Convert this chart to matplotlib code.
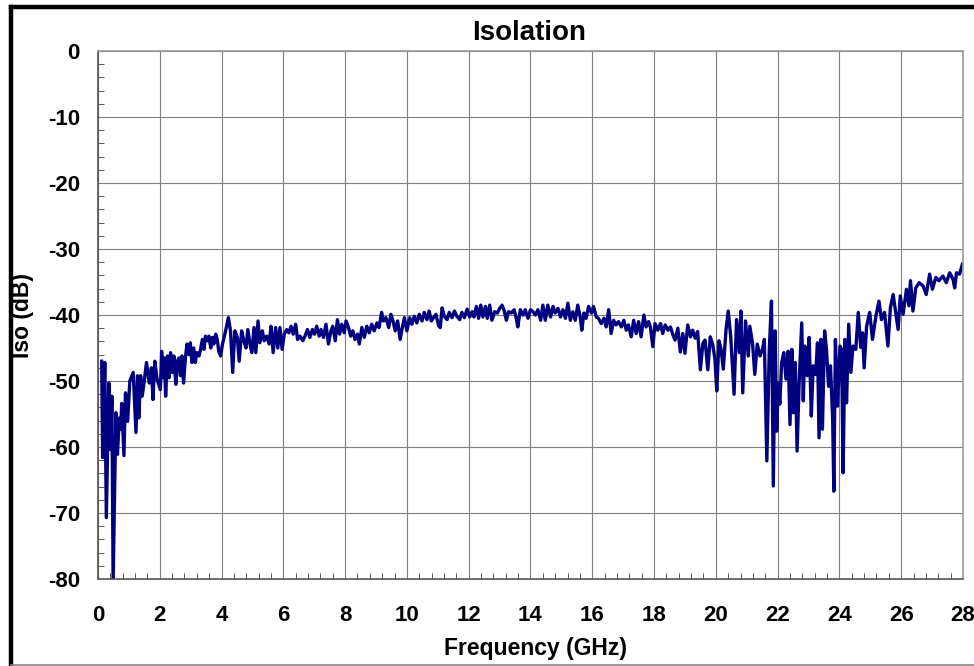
import matplotlib.pyplot as plt
from matplotlib.ticker import MultipleLocator
from matplotlib.lines import Line2D

plt.rcParams['font.family'] = ['Liberation Sans', 'DejaVu Sans']
plt.rcParams['axes.unicode_minus'] = False

# isolation trace, in three pieces (GHz, dB)
f_low = [0.12, 0.15, 0.22, 0.27, 0.35, 0.41, 0.45, 0.49, 0.58, 0.63, 0.69, 0.73, 0.77, 0.84, 0.89, 0.96,
         1.03, 1.14, 1.23, 1.28, 1.32, 1.38, 1.43, 1.49, 1.57, 1.66, 1.73, 1.78, 1.84, 1.91,
         2.02, 2.06, 2.11, 2.15, 2.19, 2.25, 2.30, 2.35, 2.41, 2.46, 2.52, 2.57, 2.62, 2.67, 2.72,
         2.77, 2.83, 2.88, 2.94, 2.99, 3.04, 3.10, 3.15, 3.20, 3.27, 3.32, 3.38, 3.43, 3.48, 3.54,
         3.59, 3.65, 3.70, 3.75, 3.81, 3.86, 3.91, 3.97, 4.03]
iso_low = [-47.0, -61.6, -47.2, -70.7, -50.3, -60.4, -52.3, -80.5, -54.8, -61.1, -55.6, -57.3, -53.4, -61.3, -51.8, -56.1,
           -50.0, -48.7, -57.8, -49.2, -55.6, -49.2, -52.3, -50.3, -47.2, -50.3, -48.0, -52.8, -47.0, -49.7,
           -51.3, -45.5, -49.5, -46.5, -52.3, -46.2, -49.5, -45.7, -48.7, -46.2, -50.5, -47.0, -46.5, -49.2, -46.2,
           -50.3, -46.5, -44.4, -46.0, -44.2, -47.2, -45.0, -47.2, -45.7, -46.2, -45.2, -43.7, -45.2, -43.2, -43.9,
           -43.2, -45.0, -43.4, -44.4, -42.9, -43.7, -45.5, -46.2, -44.4]

f_mid = [4.08, 4.14, 4.22, 4.29, 4.36, 4.43, 4.51, 4.57, 4.65, 4.72, 4.79, 4.85, 4.92, 4.98,
         5.05, 5.11, 5.18, 5.24, 5.32, 5.38, 5.46, 5.54, 5.60, 5.67, 5.75, 5.82, 5.89, 5.96,
         6.03, 6.11, 6.18, 6.25, 6.32, 6.40, 6.46, 6.54, 6.63, 6.70, 6.78, 6.86, 6.94,
         7.01, 7.08, 7.16, 7.22, 7.30, 7.38, 7.46, 7.54, 7.60, 7.68, 7.75, 7.82, 7.89, 7.97,
         8.03, 8.11, 8.18, 8.25, 8.32, 8.40, 8.46, 8.54, 8.62, 8.70, 8.78, 8.86, 8.94,
         9.03, 9.10, 9.18, 9.24, 9.32, 9.41, 9.48, 9.55, 9.62, 9.70, 9.78, 9.86, 9.92,
         10.00, 10.09, 10.16, 10.24, 10.32, 10.40, 10.49, 10.56, 10.65, 10.72, 10.79, 10.86, 10.94,
         11.03, 11.08, 11.14, 11.21, 11.30, 11.37, 11.46, 11.54, 11.62, 11.71, 11.78, 11.86, 11.95,
         12.03, 12.11, 12.17, 12.25, 12.32, 12.39, 12.46, 12.54, 12.60, 12.68, 12.75, 12.84, 12.93,
         13.00, 13.08, 13.14, 13.22, 13.29, 13.38, 13.47, 13.54, 13.59, 13.67, 13.76, 13.83, 13.92,
         14.00, 14.08, 14.16, 14.24, 14.33, 14.40, 14.48, 14.56, 14.65, 14.73, 14.80, 14.89, 14.97,
         15.05, 15.13, 15.21, 15.29, 15.37, 15.45, 15.53, 15.61, 15.66, 15.73, 15.80, 15.88, 15.97,
         16.04, 16.13, 16.20, 16.29, 16.38, 16.45, 16.53, 16.61, 16.69, 16.77, 16.85, 16.94,
         17.02, 17.10, 17.17, 17.26, 17.34, 17.42, 17.50, 17.58, 17.67, 17.74, 17.82, 17.88, 17.96,
         18.03, 18.12, 18.21, 18.28, 18.36, 18.45, 18.53, 18.61, 18.68, 18.77, 18.85, 18.93,
         19.00, 19.09, 19.18, 19.25, 19.33, 19.41, 19.50, 19.58, 19.65, 19.74, 19.82, 19.90]
iso_mid = [-43.4, -42.2, -40.4, -42.4, -48.7, -42.4, -43.4, -47.0, -42.4, -43.9, -45.0, -42.2, -44.4, -45.7,
           -41.9, -45.7, -40.9, -44.2, -42.4, -43.9, -43.2, -44.4, -41.7, -45.7, -41.9, -45.0, -41.9, -45.2,
           -42.9, -42.2, -42.7, -41.7, -42.9, -41.4, -43.7, -43.2, -43.9, -43.2, -42.2, -43.4, -42.2,
           -42.9, -41.7, -43.2, -42.2, -43.4, -41.4, -44.4, -42.4, -41.7, -43.9, -40.7, -42.9, -41.4, -42.7,
           -40.9, -41.9, -43.2, -42.4, -43.7, -42.9, -44.4, -41.9, -43.4, -41.7, -42.7, -41.4, -42.4,
           -41.2, -41.9, -39.6, -40.9, -40.4, -41.9, -39.9, -40.9, -42.4, -40.9, -43.7, -41.7, -40.4,
           -42.4, -40.4, -41.4, -40.2, -41.2, -39.9, -40.9, -39.6, -40.7, -39.4, -40.9, -40.4, -39.9,
           -41.7, -41.9, -38.9, -40.2, -40.7, -39.6, -40.4, -39.4, -40.2, -40.7, -39.6, -40.4, -39.1,
           -40.3, -39.5, -40.3, -38.7, -40.5, -38.5, -40.3, -38.7, -40.5, -38.5, -40.8, -39.5, -39.7,
           -39.0, -38.5, -39.2, -40.8, -39.5, -39.7, -39.2, -40.5, -41.8, -39.2, -40.0, -39.2, -40.5,
           -39.2, -39.5, -40.0, -39.2, -40.8, -38.5, -40.8, -38.5, -40.3, -38.7, -39.7, -39.0, -40.3,
           -39.2, -40.5, -38.2, -40.8, -39.5, -40.8, -38.5, -40.3, -42.3, -39.7, -40.5, -38.7, -39.7,
           -38.7, -40.3, -40.5, -41.3, -40.5, -41.8, -39.2, -42.8, -40.8, -41.5, -41.0, -41.8,
           -40.8, -42.3, -41.5, -43.3, -40.8, -42.8, -41.0, -43.3, -40.0, -41.8, -41.0, -41.8, -44.8,
           -41.3, -42.3, -41.3, -42.8, -41.5, -42.3, -41.8, -43.0, -43.8, -42.0, -45.6, -42.8,
           -45.8, -41.5, -43.3, -42.3, -43.5, -42.5, -48.3, -44.3, -43.8, -48.3, -43.3, -44.5]

f_high = [19.97, 20.03, 20.10, 20.17, 20.24, 20.33, 20.40, 20.48, 20.59, 20.67, 20.76, 20.81, 20.87, 20.96,
          21.05, 21.10, 21.19, 21.26, 21.34, 21.43, 21.51, 21.57, 21.65, 21.73, 21.80, 21.86, 21.92, 21.97,
          22.02, 22.07, 22.13, 22.20, 22.27, 22.34, 22.40, 22.46, 22.51, 22.57, 22.63, 22.70, 22.78,
          22.83, 22.88, 22.96, 23.02, 23.09, 23.15, 23.23, 23.29, 23.34, 23.40, 23.45, 23.52, 23.58,
          23.65, 23.71, 23.78, 23.82, 23.87, 23.94, 24.02, 24.07, 24.12, 24.18, 24.23, 24.30, 24.37,
          24.44, 24.53, 24.61, 24.69, 24.75, 24.80, 24.88, 24.98, 25.07, 25.18, 25.28, 25.36, 25.46,
          25.57, 25.65, 25.74, 25.82, 25.90, 25.97, 26.06, 26.17, 26.25, 26.30, 26.38, 26.47, 26.58,
          26.71, 26.81, 26.92, 27.01, 27.12, 27.22, 27.35, 27.46, 27.57, 27.68, 27.73, 27.79, 27.89, 27.98]
iso_high = [-46.7, -51.5, -43.9, -45.2, -48.2, -42.2, -39.4, -43.2, -52.0, -40.7, -45.7, -39.4, -51.8, -40.9,
            -46.2, -41.7, -44.4, -49.0, -44.4, -46.2, -45.2, -43.7, -62.1, -45.2, -37.9, -65.9, -42.4, -57.6,
            -50.3, -53.5, -47.2, -45.7, -49.7, -45.5, -56.6, -45.2, -54.8, -47.2, -60.6, -49.7, -41.2,
            -53.0, -44.7, -49.2, -43.4, -55.3, -47.7, -49.0, -44.2, -58.6, -43.7, -57.3, -42.4, -45.2,
            -50.8, -47.7, -55.6, -66.7, -43.7, -53.8, -44.7, -45.2, -63.9, -43.7, -53.3, -41.4, -48.7,
            -44.7, -45.2, -39.6, -44.9, -42.7, -48.0, -41.7, -39.6, -43.7, -40.2, -37.9, -40.7, -39.6,
            -44.7, -38.9, -36.9, -39.6, -42.2, -37.1, -39.9, -36.1, -38.6, -34.8, -39.4, -35.9, -35.1,
            -35.6, -36.9, -33.8, -36.1, -34.3, -34.8, -34.1, -35.1, -33.6, -34.6, -35.9, -33.6, -33.8, -32.3]

freq = f_low + f_mid + f_high
iso = iso_low + iso_mid + iso_high

xticks = list(range(0, 29, 2))
yticks = list(range(-80, 1, 10))

fig = plt.figure(figsize=(9.74, 6.66), dpi=100)
ax = fig.add_axes([0.1006, 0.1306, 0.8881, 0.7928])

ax.plot(freq, iso, color='#000080', lw=2.4, solid_joinstyle='round')

ax.set_xlim(0, 28)
ax.set_ylim(-80, 0)
ax.set_xticks(xticks)
ax.set_yticks(yticks)
ax.xaxis.set_minor_locator(MultipleLocator(0.4))
ax.yaxis.set_minor_locator(MultipleLocator(2))
ax.grid(True, which='major', color='#7f7f7f', lw=0.8)
ax.tick_params(which='major', length=0, labelsize=16)
ax.tick_params(axis='x', which='major', pad=19)
ax.tick_params(axis='y', which='major', pad=13)
ax.tick_params(which='minor', direction='in', length=4, width=0.7, color='#555555')
ax.tick_params(axis='x', which='minor', top=False)
ax.tick_params(axis='y', which='minor', right=False)
for lab in ax.get_xticklabels() + ax.get_yticklabels():
    lab.set_fontweight('bold')

for s in ['top', 'right']:
    ax.spines[s].set_color('#9a9a9a')
    ax.spines[s].set_linewidth(1.2)
for s in ['left', 'bottom']:
    ax.spines[s].set_color('#555555')
    ax.spines[s].set_linewidth(1.2)

# titles placed like the Excel chart
fig.text(529 / 974, 1 - 33 / 666, 'Isolation', fontsize=20, fontweight='bold', ha='center', va='center')
fig.text(536 / 974, 1 - 648 / 666, 'Frequency (GHz)', fontsize=16.5, fontweight='bold', ha='center', va='center')
fig.text(22 / 974, 1 - 316 / 666, 'Iso (dB)', fontsize=16.5, fontweight='bold', ha='center', va='center',
         rotation=90)

# outer chart frame
fig.add_artist(Line2D([11 / 974, 11 / 974], [1 - 6.5 / 666, 0], color='black', lw=3.2))
fig.add_artist(Line2D([11 / 974, 1], [1 - 6.5 / 666, 1 - 6.5 / 666], color='black', lw=3.2))
fig.add_artist(Line2D([11 / 974, 1], [1 - 665 / 666, 1 - 665 / 666], color='#888888', lw=1.2))

fig.savefig('out.png', dpi=100)
